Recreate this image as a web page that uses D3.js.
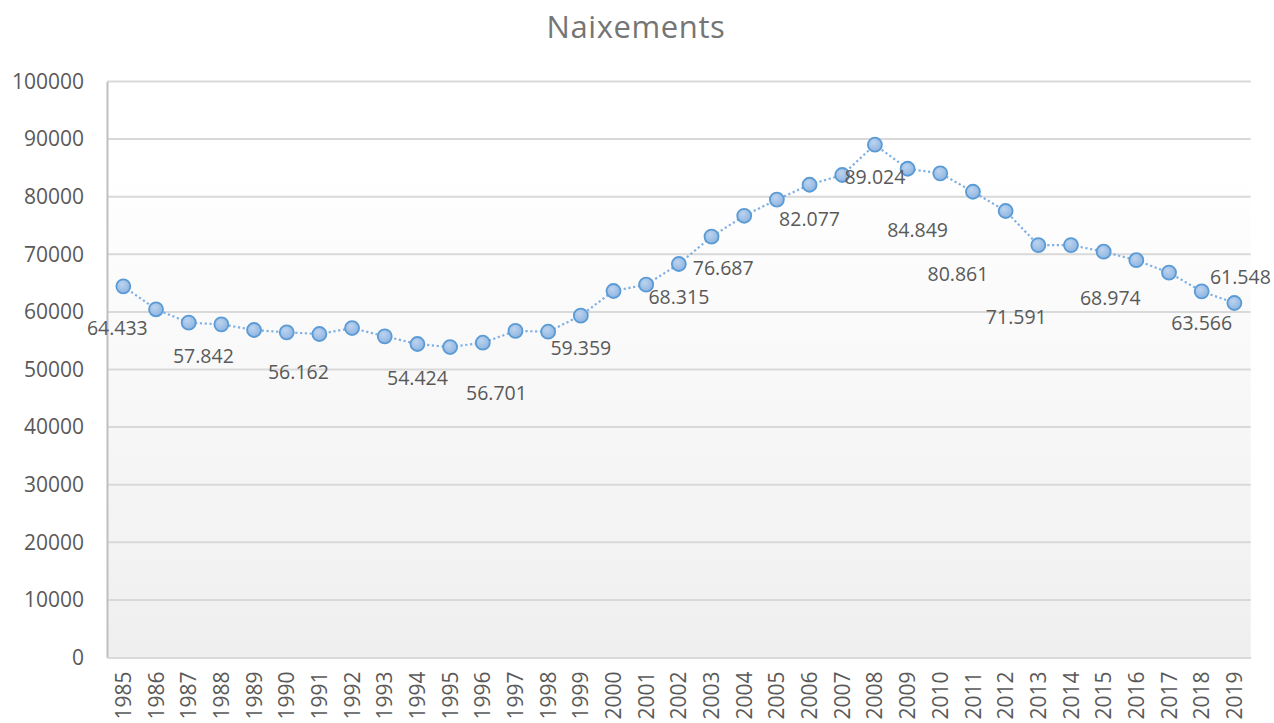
<!DOCTYPE html>
<html>
<head>
<meta charset="utf-8">
<script src="https://cdn.jsdelivr.net/npm/d3@7"></script>
<style>
  html, body { margin: 0; padding: 0; background: #ffffff; }
  svg { display: block; }
  text { font-family: "Open Sans", "Liberation Sans", sans-serif; }
</style>
</head>
<body>
<svg id="chart" width="1274" height="723"></svg>
<script>
// ---- data ----
const title = "Naixements";
const years = ["1985","1986","1987","1988","1989","1990","1991","1992","1993","1994",
  "1995","1996","1997","1998","1999","2000","2001","2002","2003","2004",
  "2005","2006","2007","2008","2009","2010","2011","2012","2013","2014",
  "2015","2016","2017","2018","2019"];
const births = [64433, 60450, 58130, 57842, 56860, 56450, 56162, 57200, 55760, 54424,
  53900, 54650, 56701, 56560, 59359, 63630, 64730, 68315, 73060, 76687,
  79500, 82077, 83770, 89024, 84849, 84060, 80861, 77520, 71591, 71600,
  70450, 68974, 66810, 63566, 61548];
const yTicks = [0, 10000, 20000, 30000, 40000, 50000, 60000, 70000, 80000, 90000, 100000];
// years that carry a data label
const labelledYears = ["1985","1988","1991","1994","1997","1999","2002","2004","2006",
  "2008","2009","2011","2013","2016","2018","2019"];
// label placement offsets (px) relative to the marker, same order as labelledYears
const labelOffsets = [[-6,42],[-18,32],[-21,38],[0,34],[-19,62],[0,32],[0,33],[-21,52],[0,34],
  [0,32],[10,61],[-15,82],[-22,72],[-26,38],[0,32],[6,-26]];

// ---- layout ----
const svg = d3.select("#chart");
const pLeft = 107, pRight = 1250.7, pTop = 81.5, pBottom = 657.5;

const x = d3.scaleBand().domain(years).range([pLeft, pRight]).padding(0);
const y = d3.scaleLinear().domain([0, 100000]).range([pBottom, pTop]);

const defs = svg.append("defs");
const bg = defs.append("linearGradient").attr("id", "bg")
  .attr("x1", 0).attr("y1", 0).attr("x2", 0).attr("y2", 1);
bg.append("stop").attr("offset", "0%").attr("stop-color", "#ffffff");
bg.append("stop").attr("offset", "15%").attr("stop-color", "#ffffff");
bg.append("stop").attr("offset", "100%").attr("stop-color", "#efefef");

const mk = defs.append("radialGradient").attr("id", "mk")
  .attr("cx", "40%").attr("cy", "35%").attr("r", "65%");
mk.append("stop").attr("offset", "0%").attr("stop-color", "#bcd3ee");
mk.append("stop").attr("offset", "100%").attr("stop-color", "#8fb5e2");

// plot background
svg.append("rect")
  .attr("x", pLeft).attr("y", pTop)
  .attr("width", pRight - pLeft).attr("height", pBottom - pTop)
  .attr("fill", "url(#bg)");

// title
svg.append("text")
  .attr("x", 636).attr("y", 38)
  .attr("text-anchor", "middle")
  .attr("font-size", 31)
  .attr("letter-spacing", 0.6)
  .attr("fill", "#757575")
  .text(title);

// gridlines
svg.append("g").selectAll("line")
  .data(yTicks.filter(d => d > 0))
  .join("line")
  .attr("x1", pLeft).attr("x2", pRight)
  .attr("y1", d => y(d)).attr("y2", d => y(d))
  .attr("stroke", "#d9d9d9").attr("stroke-width", 2);

// y axis
const yAxis = svg.append("g")
  .attr("transform", `translate(${pLeft},0)`)
  .call(d3.axisLeft(y).tickValues(yTicks).tickFormat(d3.format("d")).tickSize(0).tickPadding(23));
yAxis.select(".domain").attr("stroke", "#bfbfbf").attr("stroke-width", 2);
yAxis.selectAll("text")
  .attr("font-size", 21)
  .attr("fill", "#595959")
  .style("font-family", "'Open Sans', 'Liberation Sans', sans-serif");

// x axis
const xAxis = svg.append("g")
  .attr("transform", `translate(0,${pBottom})`)
  .call(d3.axisBottom(x).tickSize(0).tickPadding(0));
xAxis.select(".domain").attr("stroke", "#d9d9d9").attr("stroke-width", 2);
xAxis.selectAll("text")
  .attr("font-size", 21)
  .attr("fill", "#595959")
  .style("font-family", "'Open Sans', 'Liberation Sans', sans-serif")
  .attr("transform", "rotate(-90)")
  .attr("text-anchor", "end")
  .attr("x", -14)
  .attr("y", 0)
  .attr("dy", "0.36em");

// series line
const pts = years.map((yr, i) => ({ year: yr, value: births[i] }));
const cx = d => x(d.year) + x.bandwidth() / 2;
svg.append("path")
  .datum(pts)
  .attr("fill", "none")
  .attr("stroke", "#7fb0e3")
  .attr("stroke-width", 2.2)
  .attr("stroke-dasharray", "2.2,2.6")
  .attr("d", d3.line().x(cx).y(d => y(d.value)));

// markers
svg.append("g").selectAll("circle")
  .data(pts)
  .join("circle")
  .attr("cx", cx)
  .attr("cy", d => y(d.value))
  .attr("r", 7)
  .attr("fill", "url(#mk)")
  .attr("stroke", "#5b9bd5")
  .attr("stroke-width", 1.8);

// data labels
const fmt = v => (v / 1000).toFixed(3);
const labels = labelledYears.map((yr, i) => {
  const p = pts[years.indexOf(yr)];
  return { p, off: labelOffsets[i] };
});
svg.append("g").selectAll("text")
  .data(labels)
  .join("text")
  .attr("x", d => cx(d.p) + d.off[0])
  .attr("y", d => y(d.p.value) + d.off[1])
  .attr("dy", "0.36em")
  .attr("text-anchor", "middle")
  .attr("font-size", 19.5)
  .attr("fill", "#595959")
  .text(d => fmt(d.p.value));
</script>
</body>
</html>
